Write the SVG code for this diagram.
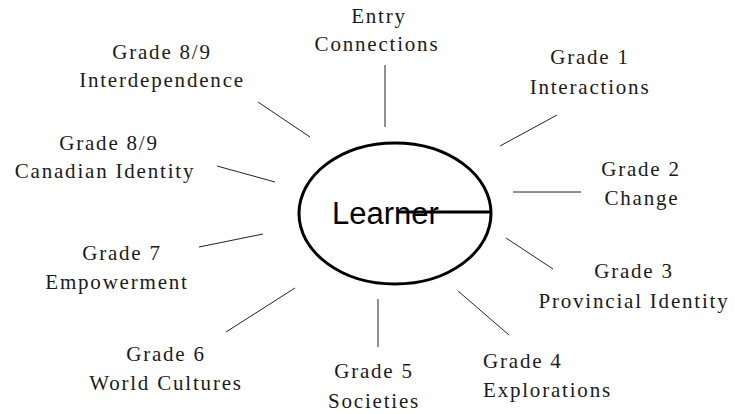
<svg xmlns="http://www.w3.org/2000/svg" width="735" height="414" viewBox="0 0 735 414">
<style>
.lbl{font-family:"Liberation Serif","Times New Roman",serif;font-size:21px;letter-spacing:1.8px;fill:#1a1a1a;text-anchor:middle}
.conn line{stroke:#222;stroke-width:1}
</style>
<rect width="735" height="414" fill="#fff"/>
<g id="connectors" class="conn">
<line x1="385" y1="65" x2="385" y2="127"/>
<line x1="557" y1="115" x2="500" y2="146"/>
<line x1="513" y1="192" x2="581" y2="192"/>
<line x1="506" y1="238" x2="553" y2="269"/>
<line x1="458" y1="291" x2="509" y2="335"/>
<line x1="378" y1="299" x2="378" y2="347"/>
<line x1="295" y1="288" x2="226" y2="332"/>
<line x1="263" y1="234" x2="199" y2="247"/>
<line x1="275" y1="182" x2="217" y2="166"/>
<line x1="310" y1="137" x2="258" y2="102"/>
</g>
<g id="learner">
<ellipse cx="395" cy="213.5" rx="96" ry="70.5" fill="none" stroke="#000" stroke-width="3"/>
<text x="332" y="224" font-family="Liberation Sans, Arial, sans-serif" font-size="31" fill="#000">Learner</text>
<line x1="397" y1="212" x2="492" y2="212" stroke="#000" stroke-width="3"/>
</g>
<g id="entry"><text class="lbl" x="379" y="23">Entry</text><text class="lbl" x="377" y="51">Connections</text></g>
<g id="grade1"><text class="lbl" x="590" y="64">Grade 1</text><text class="lbl" x="590" y="94">Interactions</text></g>
<g id="grade2"><text class="lbl" x="641" y="176">Grade 2</text><text class="lbl" x="642" y="205">Change</text></g>
<g id="grade3"><text class="lbl" x="634" y="278">Grade 3</text><text class="lbl" x="634" y="308">Provincial Identity</text></g>
<g id="grade4"><text class="lbl" x="483" y="368" style="text-anchor:start">Grade 4</text><text class="lbl" x="483" y="397" style="text-anchor:start">Explorations</text></g>
<g id="grade5"><text class="lbl" x="374" y="378">Grade 5</text><text class="lbl" x="374" y="408">Societies</text></g>
<g id="grade6"><text class="lbl" x="166" y="361">Grade 6</text><text class="lbl" x="166" y="390">World Cultures</text></g>
<g id="grade7"><text class="lbl" x="122" y="260">Grade 7</text><text class="lbl" x="117" y="289">Empowerment</text></g>
<g id="grade89c"><text class="lbl" x="109" y="150">Grade 8/9</text><text class="lbl" x="105" y="178">Canadian Identity</text></g>
<g id="grade89i"><text class="lbl" x="162" y="59">Grade 8/9</text><text class="lbl" x="162" y="87">Interdependence</text></g>
</svg>
